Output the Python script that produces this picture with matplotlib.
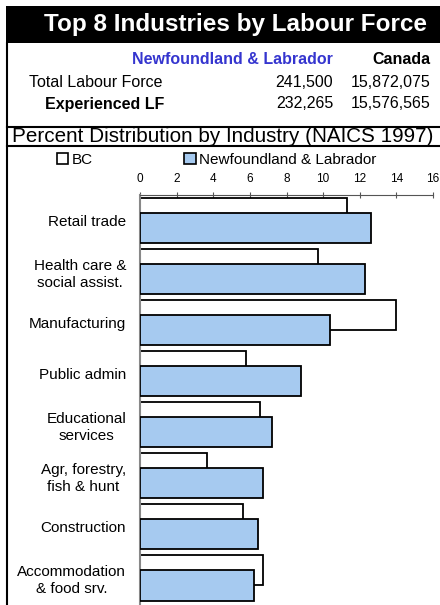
import numpy as np
import matplotlib
matplotlib.use("Agg")
import matplotlib.pyplot as plt
from matplotlib.lines import Line2D
from matplotlib.patches import Rectangle, Patch

plt.rcParams['font.family'] = ['Liberation Sans', 'DejaVu Sans']

# data
industries = ["Retail trade", "Health care &\nsocial assist.", "Manufacturing",
              "Public admin", "Educational\nservices", "Agr, forestry,\nfish & hunt",
              "Construction", "Accommodation\n& food srv."]
bc = [11.3, 9.7, 14.0, 5.8, 6.55, 3.65, 5.65, 6.7]
nl = [12.6, 12.3, 10.35, 8.8, 7.2, 6.7, 6.45, 6.2]
ticks = [0, 2, 4, 6, 8, 10, 12, 14, 16]
region = "Newfoundland & Labrador"
lf_rows = ["Total Labour Force", "Experienced LF"]
lf_region = ["241,500", "232,265"]
lf_canada = ["15,872,075", "15,576,565"]

W, H = 440, 605
fig = plt.figure(figsize=(W / 100, H / 100), dpi=100)


def fx(x):
    return x / W


def fy(y):
    return 1 - y / H


# header block
fig.add_artist(Rectangle((fx(6), fy(43)), fx(W) - fx(6), fy(6) - fy(43),
                         transform=fig.transFigure, facecolor="black", edgecolor="none"))
fig.text(fx(235), fy(25), "Top 8 Industries by Labour Force", color="white",
         fontsize=17.5, fontweight="bold", ha="center", va="center")
fig.text(fx(333), fy(60), region, color="#3535CF", fontsize=11.5,
         fontweight="bold", ha="right", va="center")
fig.text(fx(430), fy(60), "Canada", color="black", fontsize=11.5,
         fontweight="bold", ha="right", va="center")
fig.text(fx(29), fy(82.5), lf_rows[0], fontsize=11.5, ha="left", va="center")
fig.text(fx(45), fy(104), lf_rows[1], fontsize=11.5, fontweight="bold", ha="left", va="center")
for i, yy in enumerate([82.5, 104]):
    fig.text(fx(333), fy(yy), lf_region[i], fontsize=11.5, ha="right", va="center")
    fig.text(fx(430), fy(yy), lf_canada[i], fontsize=11.5, ha="right", va="center")

fig.add_artist(Line2D([fx(7), fx(7)], [fy(43), fy(H)], color="black", lw=1.5))
fig.add_artist(Line2D([fx(7), fx(W)], [fy(127), fy(127)], color="black", lw=1.5))
fig.add_artist(Line2D([fx(7), fx(W)], [fy(146), fy(146)], color="black", lw=1.5))
fig.text(fx(223), fy(136.5), "Percent Distribution by Industry (NAICS 1997)",
         fontsize=14.9, ha="center", va="center")

# chart
ax = fig.add_axes([fx(140), 0, fx(433) - fx(140), fy(195)])
y = np.arange(len(industries))
h = 0.59
off = 0.147
ax.barh(y - off, bc, height=h, color="white", edgecolor="black", linewidth=1.3, zorder=2)
ax.barh(y + off, nl, height=h, color="#A6CAF0", edgecolor="black", linewidth=1.3, zorder=3)

ax.set_xlim(0, 16)
ax.set_ylim(7.53, -0.5)
ax.set_xticks(ticks)
ax.set_xticklabels([str(t) for t in ticks])
ax.xaxis.tick_top()
ax.tick_params(axis="x", direction="inout", length=4, labelsize=8.5, pad=5, color="#555555")
ax.set_yticks(y)
ax.set_yticklabels(industries, fontsize=11, multialignment="center", linespacing=1.25)
ax.tick_params(axis="y", length=0, pad=10)
ax.spines["right"].set_visible(False)
ax.spines["bottom"].set_visible(False)
ax.spines["top"].set_color("#555555")
ax.spines["left"].set_color("#888888")
ax.spines["left"].set_linewidth(1.5)

handles = [Patch(facecolor="white", edgecolor="black", linewidth=1.2),
           Patch(facecolor="#A6CAF0", edgecolor="black", linewidth=1.2)]
fig.legend(handles, ["BC", region], loc="center left",
           bbox_to_anchor=(fx(57), fy(160)), ncol=2, frameon=False, fontsize=11,
           handlelength=0.75, handleheight=0.75, handletextpad=0.2,
           columnspacing=6.0, borderpad=0, borderaxespad=0)

fig.savefig("out.png", dpi=100)
